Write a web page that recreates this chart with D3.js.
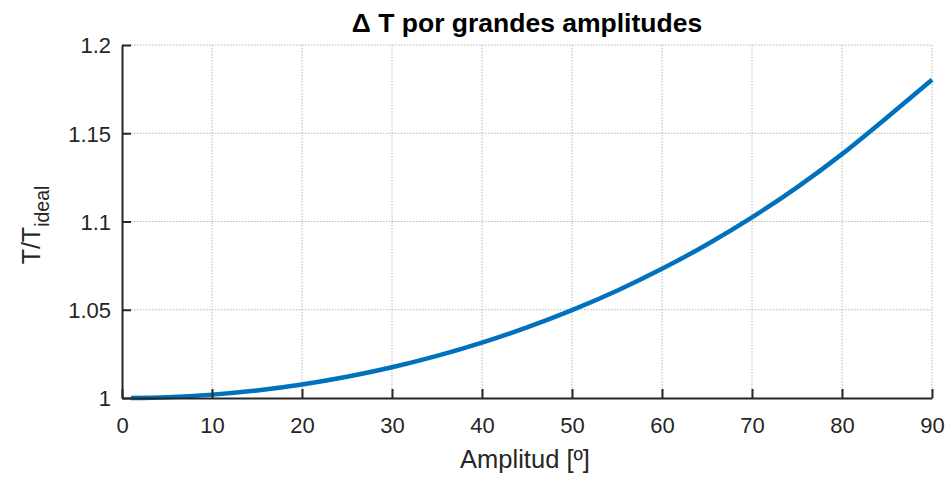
<!DOCTYPE html>
<html>
<head>
<meta charset="utf-8">
<script src="https://cdn.jsdelivr.net/npm/d3@7"></script>
<style>
  body { margin: 0; background: #fff; }
  text { font-family: "Liberation Sans", Arial, sans-serif; fill: #262626; }
</style>
</head>
<body>
<script>
// amplitude in degrees and period ratio T/T_ideal
const amplitude = [1, 5, 10, 15, 20, 25, 30, 35, 40, 45, 50, 55, 60, 65, 70, 75, 80, 85, 90]
const ratio = [1.00002, 1.00048, 1.00191, 1.0043, 1.00767, 1.01203, 1.01741, 1.02384, 1.03134,
  1.03997, 1.04976, 1.06078, 1.07318, 1.087, 1.10235, 1.11936, 1.13818, 1.15898, 1.18034]
const xTicks = [0, 10, 20, 30, 40, 50, 60, 70, 80, 90]
const yTicks = [1, 1.05, 1.1, 1.15, 1.2]

function drawChart() {
  const svgWidth = 952, svgHeight = 481
  const margin = {top: 45, right: 20, bottom: 83, left: 122}
  const width = 932 - margin.left,
    height = 398 - margin.top

  const svg = d3.select('body').append('svg')
    .attr('width', svgWidth)
    .attr('height', svgHeight)

  const x = d3.scaleLinear().domain([0, 90]).range([0, width])
  const y = d3.scaleLinear().domain([1, 1.2]).range([height, 0])

  const g = svg.append('g')
    .attr('transform', 'translate(' + margin.left + ',' + margin.top + ')')

  // dotted grid
  const grid = g.append('g').attr('class', 'grid')
  grid.selectAll('.gx').data(xTicks.slice(1)).enter().append('line')
    .attr('x1', d => x(d)).attr('x2', d => x(d))
    .attr('y1', 0).attr('y2', height)
  grid.selectAll('.gy').data(yTicks.slice(1)).enter().append('line')
    .attr('x1', 0).attr('x2', width)
    .attr('y1', d => y(d)).attr('y2', d => y(d))
  grid.selectAll('line')
    .attr('stroke', '#b8b8b8')
    .attr('stroke-width', 1)
    .attr('stroke-dasharray', '1.5,1.5')

  const data = amplitude.map((a, i) => ({a: a, r: ratio[i]}))
  const line = d3.line()
    .x(d => x(d.a))
    .y(d => y(d.r))
    .curve(d3.curveMonotoneX)

  g.append('path')
    .datum(data)
    .attr('fill', 'none')
    .attr('stroke', '#0072BD')
    .attr('stroke-width', 4.5)
    .attr('d', line)

  const xAxis = d3.axisBottom(x).tickValues(xTicks).tickSizeInner(-9).tickSizeOuter(0).tickPadding(19)
  const yAxis = d3.axisLeft(y).tickValues(yTicks).tickSizeInner(-9).tickSizeOuter(0).tickPadding(11)
    .tickFormat(d3.format('~g'))

  const gx = g.append('g')
    .attr('transform', 'translate(0,' + height + ')')
    .call(xAxis)
  const gy = g.append('g').call(yAxis)

  for (const ax of [gx, gy]) {
    ax.select('.domain').attr('stroke', '#262626').attr('stroke-width', 2)
    ax.selectAll('.tick line').attr('stroke', '#262626').attr('stroke-width', 2)
    ax.selectAll('.tick text').attr('font-size', 22).attr('fill', '#262626')
      .style('font-family', '"Liberation Sans", Arial, sans-serif')
  }
  gy.selectAll('.tick text').attr('dy', '0.36em')

  svg.append('text')
    .attr('x', margin.left + width / 2)
    .attr('y', 32)
    .attr('text-anchor', 'middle')
    .attr('font-size', 26.5)
    .attr('font-weight', 'bold')
    .style('fill', '#000')
    .text('Δ T por grandes amplitudes')

  svg.append('text')
    .attr('x', 525)
    .attr('y', 468)
    .attr('text-anchor', 'middle')
    .attr('font-size', 25.5)
    .text('Amplitud [º]')

  const yl = svg.append('text')
    .attr('transform', 'translate(40,225) rotate(-90)')
    .attr('text-anchor', 'middle')
    .attr('font-size', 25)
  yl.append('tspan').text('T/T')
  yl.append('tspan').attr('font-size', 19.5).attr('dy', 9).text('ideal')
}

drawChart()
</script>
</body>
</html>
